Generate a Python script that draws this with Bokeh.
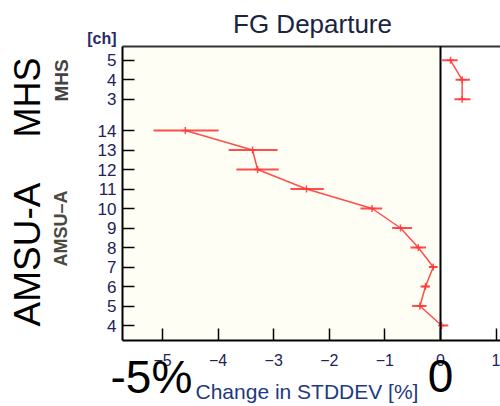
import math
from bokeh.plotting import figure
from bokeh.models import (Range1d, FixedTicker, LinearAxis, Label, BoxAnnotation,
                          ColumnDataSource)
from bokeh.embed import file_html
from bokeh.resources import INLINE

# ---- data ----
amsu_ch = [4, 5, 6, 7, 8, 9, 10, 11, 12, 13, 14]
amsu_val = [0.02, -0.37, -0.27, -0.13, -0.40, -0.72, -1.23, -2.41, -3.29, -3.38, -4.59]
amsu_lo = [-0.01, -0.51, -0.36, -0.21, -0.54, -0.87, -1.44, -2.70, -3.67, -3.81, -5.16]
amsu_hi = [0.14, -0.25, -0.19, -0.05, -0.26, -0.51, -1.05, -2.10, -2.91, -2.93, -3.99]

mhs_ch = [3, 4, 5]
mhs_val = [0.39, 0.39, 0.18]
mhs_lo = [0.25, 0.27, 0.03]
mhs_hi = [0.54, 0.53, 0.31]

x_ticks = [-5, -4, -3, -2, -1, 0, 1]
x_tick_labels = ["\u22125", "\u22124", "\u22123", "\u22122", "\u22121", "0", "1"]

title_text = "FG Departure"
x_label_text = "Change in STDDEV [%]"

# row positions: AMSU-A rows, a gap, then MHS rows
MHS_OFFSET = 11.6
amsu_y = [c - 4 for c in amsu_ch]
mhs_y = [c - 3 + MHS_OFFSET for c in mhs_ch]

W, H = 500, 406
FONT = "Liberation Sans"
RED = "#ff3a3a"

# The frame covers the whole canvas so that texts are not clipped;
# axes are pinned at the plot-box edges with fixed_location.
PXX, X0 = 55.6, 440.0     # px per x unit, canvas x of zero
PXY, Y0 = 19.5, 325.0     # px per row, canvas y of row 0
BOX_L, BOX_R, BOX_T, BOX_B = 122, 500, 46, 340   # plot box on the canvas

def dx(px):
    return (px - X0) / PXX

def dy(py):
    return (Y0 - py) / PXY

x_lo, x_hi = dx(BOX_L), dx(BOX_R)
y_lo, y_hi = dy(BOX_B), dy(BOX_T)

p = figure(width=W, height=H, output_backend="svg", toolbar_location=None,
           x_range=Range1d(dx(0), dx(W)), y_range=Range1d(dy(H), dy(0)),
           min_border=0, min_border_left=0, min_border_right=0,
           min_border_top=0, min_border_bottom=0)
p.outline_line_color = None
p.background_fill_color = "white"
p.border_fill_color = "white"
p.xgrid.visible = False
p.ygrid.visible = False

# ivory region of the plot box left of zero
p.add_layout(BoxAnnotation(left=x_lo, right=0, bottom=y_lo, top=y_hi,
                           fill_color="#fffef4", fill_alpha=1.0,
                           line_color=None, level="underlay"))

# bottom axis
xa = p.xaxis[0]
xa.fixed_location = y_lo
xa.bounds = (x_lo, x_hi)
xa.ticker = FixedTicker(ticks=x_ticks)
xa.major_label_overrides = {t: l for t, l in zip(x_ticks, x_tick_labels)}
xa.major_tick_in = 12
xa.major_tick_out = 0
xa.minor_tick_in = 0
xa.minor_tick_out = 0
xa.major_tick_line_width = 1.5
xa.axis_line_width = 2
xa.major_label_standoff = 13
xa.major_label_text_font = FONT
xa.major_label_text_font_size = "16px"
xa.major_label_text_color = "#22225a"

# left axis
ya = p.yaxis[0]
y_ticks = amsu_y + mhs_y
y_labels = [str(c) for c in amsu_ch] + [str(c) for c in mhs_ch]
ya.fixed_location = x_lo
ya.bounds = (y_lo, y_hi)
ya.ticker = FixedTicker(ticks=y_ticks)
ya.major_label_overrides = {t: l for t, l in zip(y_ticks, y_labels)}
ya.major_tick_in = 12
ya.major_tick_out = 0
ya.minor_tick_in = 0
ya.minor_tick_out = 0
ya.major_tick_line_width = 1.5
ya.axis_line_width = 2
ya.major_label_standoff = 6
ya.major_label_text_font = FONT
ya.major_label_text_font_size = "17px"
ya.major_label_text_color = "#22225a"


def bare_axis(loc, bounds, side, color):
    ax = LinearAxis(ticker=FixedTicker(ticks=[]), fixed_location=loc, bounds=bounds,
                    axis_line_width=2, axis_line_color=color,
                    major_tick_in=0, major_tick_out=0, minor_tick_in=0,
                    minor_tick_out=0, major_label_text_font_size="0px")
    p.add_layout(ax, side)


bare_axis(y_hi, (x_lo, x_hi), "above", "#333333")   # top border
bare_axis(0, (y_lo, y_hi), "right", "black")         # zero line

# data marks
src_a = ColumnDataSource(dict(y=amsu_y, v=amsu_val, lo=amsu_lo, hi=amsu_hi))
src_m = ColumnDataSource(dict(y=mhs_y, v=mhs_val, lo=mhs_lo, hi=mhs_hi))
for src in (src_a, src_m):
    p.segment(x0="lo", x1="hi", y0="y", y1="y", source=src, line_color=RED,
              line_width=2, line_alpha=0.9)
    p.line(x="v", y="y", source=src, line_color=RED, line_width=1.5, line_alpha=0.9)
    p.scatter(x="v", y="y", source=src, marker="cross", size=7, line_color=RED,
              line_width=1.5, line_alpha=0.9)


def lab(x, y_mid, text, size, color="black", align="left", angle=0.0,
        style="normal"):
    # y_mid: canvas y (from top) of the text's vertical middle
    p.add_layout(Label(x=x, y=H - y_mid, x_units="screen", y_units="screen",
                       text=text, text_font=FONT, text_font_size=f"{size}px",
                       text_color=color, text_align=align, text_baseline="middle",
                       angle=angle, text_font_style=style))


lab(312, 23, title_text, 26, color="#1a2340", align="center")
lab(116, 38, "[ch]", 16, color="#2a2a66", align="right", style="bold")
lab(61, 80, "MHS", 19, color="#444444", align="center", angle=math.pi / 2,
    style="bold")
lab(60, 228, "AMSU\u2013A", 18, color="#4a4a40", align="center", angle=math.pi / 2,
    style="bold")
lab(27, 97, "MHS", 36, align="center", angle=math.pi / 2)
lab(27, 254, "AMSU-A", 37, align="center", angle=math.pi / 2)
lab(110, 376, "-5%", 46)
lab(440, 375, "0", 46, align="center")
lab(195, 391, x_label_text, 21, color="#1f3a80")

open("out.html", "w").write(file_html(p, INLINE))
